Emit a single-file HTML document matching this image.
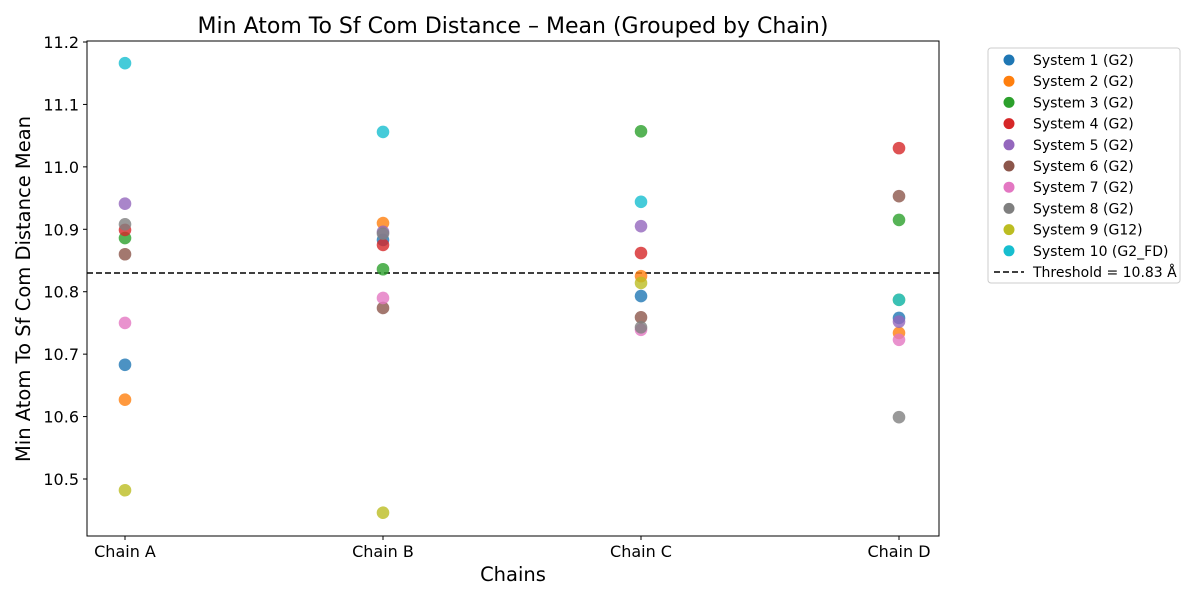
<!DOCTYPE html>
<html><head><meta charset="utf-8"><style>
body{margin:0;background:#fff;font-family:"Liberation Sans","DejaVu Sans",sans-serif}
</style></head><body>
<svg id="chart" width="1200" height="600" xmlns="http://www.w3.org/2000/svg" font-family="DejaVu Sans, Liberation Sans, sans-serif"></svg>
<script>
const categories=["Chain A","Chain B","Chain C","Chain D"];
const seriesNames=["System 1 (G2)","System 2 (G2)","System 3 (G2)","System 4 (G2)","System 5 (G2)","System 6 (G2)","System 7 (G2)","System 8 (G2)","System 9 (G12)","System 10 (G2_FD)"];
const colors=["#1f77b4","#ff7f0e","#2ca02c","#d62728","#9467bd","#8c564b","#e377c2","#7f7f7f","#bcbd22","#17becf"];
const s1=[10.683,10.883,10.793,10.758];
const s2=[10.627,10.910,10.825,10.734];
const s3=[10.886,10.836,11.057,10.915];
const s4=[10.899,10.875,10.862,11.030];
const s5=[10.941,10.896,10.905,10.752];
const s6=[10.860,10.774,10.759,10.953];
const s7=[10.750,10.790,10.739,10.723];
const s8=[10.908,10.893,10.743,10.599];
const s9=[10.482,10.446,10.814,10.787];
const s10=[11.166,11.056,10.944,10.787];
const series=[s1,s2,s3,s4,s5,s6,s7,s8,s9,s10];
const yTicks=[10.5,10.6,10.7,10.8,10.9,11.0,11.1,11.2];
const threshold=10.83;
const svg=document.getElementById('chart');
const NS="http://www.w3.org/2000/svg";
const L=87,R=939,T=41,B=536;
const xPos=i=>125+i*(899-125)/(categories.length-1);
const yPos=v=>42+(11.2-v)*624.3;
function mk(tag,attrs,parent){const e=document.createElementNS(NS,tag);for(const k in attrs)e.setAttribute(k,attrs[k]);(parent||svg).appendChild(e);return e;}
let f=mk('rect',{x:L,y:T,width:R-L,height:B-T,fill:'none',stroke:'#000','stroke-width':1});


yTicks.forEach(t=>{const y=yPos(t);
 let l=mk('line',{x1:L-4,x2:L,y1:y,y2:y,stroke:'#000'});
 
 
 let tx=mk('text',{x:L-8,y:y+6,'text-anchor':'end','font-size':16});tx.textContent=t.toFixed(1);
 
 
});
categories.forEach((c,i)=>{const x=xPos(i);
 let l=mk('line',{x1:x,x2:x,y1:B,y2:B+4,stroke:'#000'});
 
 
 let tx=mk('text',{x:x,y:B+21,'text-anchor':'middle','font-size':16});tx.textContent=c;
 
 
});
let th=mk('line',{x1:L,x2:R,y1:yPos(threshold),y2:yPos(threshold),stroke:'#000','stroke-width':1.5,'stroke-dasharray':'6,3'});


series.forEach((s,si)=>s.forEach((v,i)=>{
 let c=mk('circle',{cx:xPos(i),cy:yPos(v),r:6.3,fill:colors[si],'fill-opacity':0.8});
 
 
}));
let tt=mk('text',{x:513,y:33,'text-anchor':'middle','font-size':22});tt.textContent="Min Atom To Sf Com Distance – Mean (Grouped by Chain)";


let xt=mk('text',{x:513,y:581,'text-anchor':'middle','font-size':19.5});xt.textContent="Chains";


let yt=mk('text',{x:0,y:0,'text-anchor':'middle','font-size':19.5,transform:'translate(30,289) rotate(-90)'});yt.textContent="Min Atom To Sf Com Distance Mean";


const lg=mk('g',{});


mk('rect',{x:988,y:48,width:192,height:235,rx:3,fill:'#fff',stroke:'#ccc'},lg);
seriesNames.forEach((n,i)=>{const y=60+i*21.2;
 let e=mk('g',{},lg);
 
 
 mk('circle',{cx:1009,cy:y,r:5.5,fill:colors[i]},e);
 let t=mk('text',{x:1033,y:y+5,'font-size':14},e);t.textContent=n;
});
let le=mk('g',{},lg);


const ly=60+10*21.2;
mk('line',{x1:994,x2:1024,y1:ly,y2:ly,stroke:'#000','stroke-width':1.5,'stroke-dasharray':'6,3'},le);
let lt=mk('text',{x:1033,y:ly+5,'font-size':14},le);lt.textContent="Threshold = 10.83 Å";
</script>
</body></html>
